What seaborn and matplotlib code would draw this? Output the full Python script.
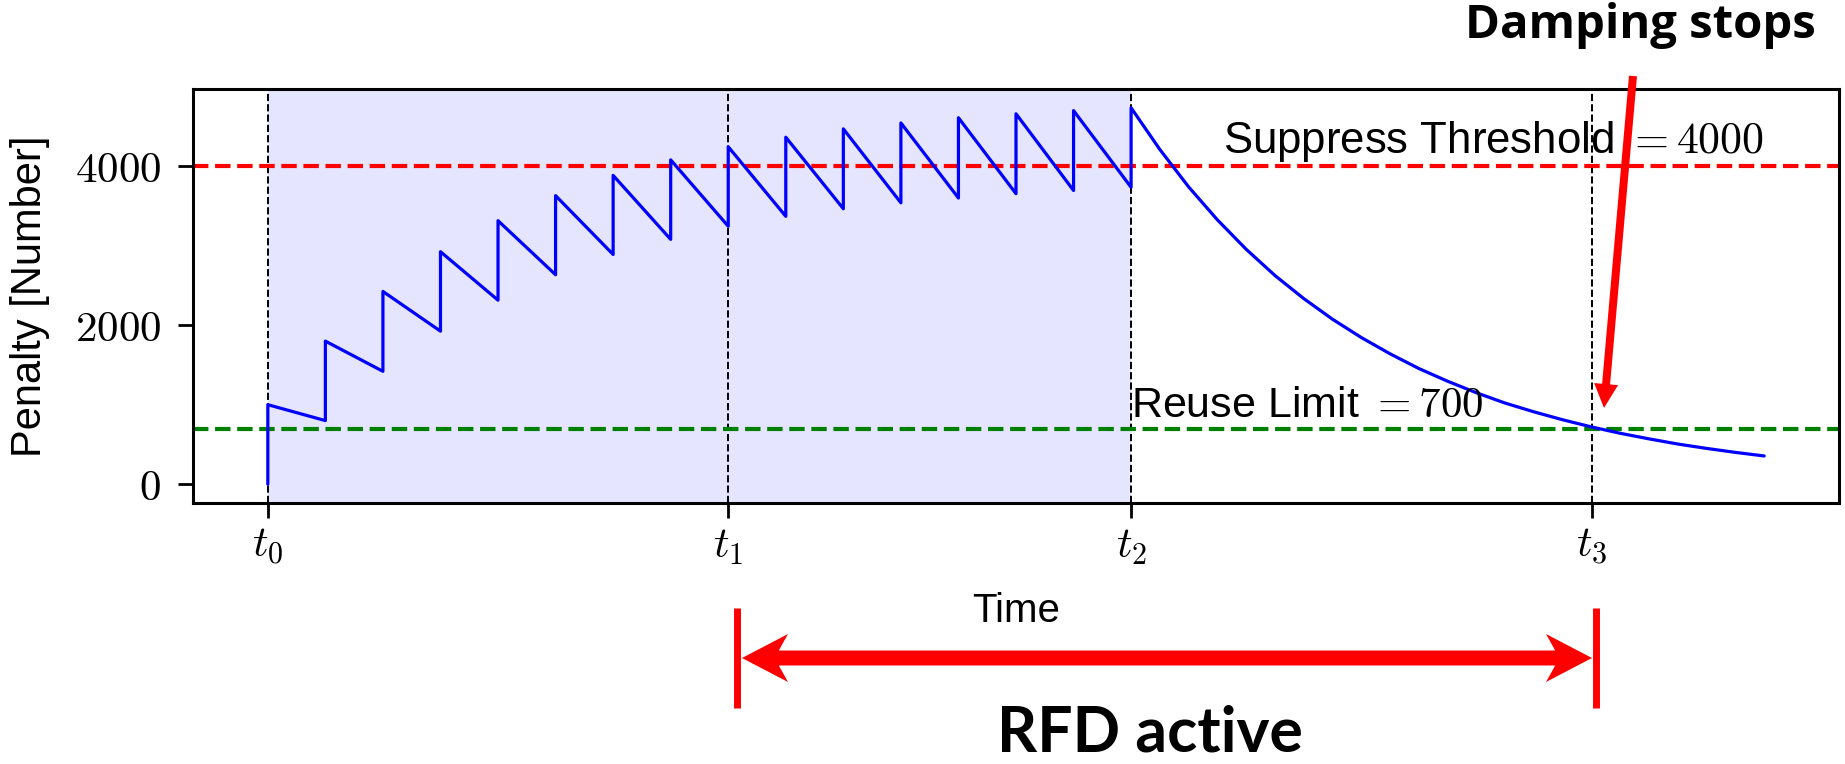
import numpy as np
import pandas as pd
import matplotlib
matplotlib.use("Agg")
import matplotlib.pyplot as plt
import matplotlib.transforms as mtransforms
from matplotlib.patches import FancyArrow
from matplotlib.lines import Line2D
import seaborn as sns

# ---------------- data ----------------
flap_times = [0, 1, 2, 3, 4, 5, 6, 7, 8, 9, 10, 11, 12, 13, 14, 15]
penalty_before_flap = [0, 800, 1420, 1925, 2315, 2635, 2890, 3080, 3245,
                       3370, 3465, 3540, 3600, 3655, 3695, 3735]
penalty_after_flap = [1000, 1800, 2425, 2925, 3315, 3630, 3885, 4080, 4245,
                      4365, 4470, 4545, 4610, 4660, 4700, 4735]
decay_times = [15.5, 16, 16.5, 17, 17.5, 18, 18.5, 19, 19.5, 20, 20.5, 21,
               21.5, 22, 22.5, 23, 23.5, 24, 24.5, 25, 25.5, 26]
decay_penalty = [4210, 3740, 3325, 2955, 2625, 2335, 2075, 1845, 1640, 1455,
                 1295, 1150, 1020, 910, 810, 720, 640, 570, 505, 450, 400, 355]

event_ticks = [0, 8, 15, 23]
event_labels = [r"$t_0$", r"$t_1$", r"$t_2$", r"$t_3$"]
ytick_values = [0, 2000, 4000]
ytick_labels = [r"$0$", r"$2000$", r"$4000$"]
suppress_threshold = 4000
reuse_limit = 700

# ---------------- style ----------------
W, H, DPI = 1845, 764, 100
sns.set_style("ticks")
plt.rcParams["font.family"] = ["Liberation Sans", "DejaVu Sans"]
plt.rcParams["mathtext.fontset"] = "cm"
for key in ("text.color", "axes.labelcolor", "xtick.color", "ytick.color",
            "axes.edgecolor"):
    plt.rcParams[key] = "black"

xs, ys = [], []
for t, b, a in zip(flap_times, penalty_before_flap, penalty_after_flap):
    xs += [t, t]
    ys += [b, a]
xs += decay_times
ys += decay_penalty
df = pd.DataFrame({"Time": xs, "Penalty": ys})

fig = plt.figure(figsize=(W / DPI, H / DPI), dpi=DPI)
ax = fig.add_axes([193 / W, 1 - 503 / H, 1646 / W, 414 / H])

ax.axvspan(event_ticks[0], event_ticks[2], color="blue", alpha=0.1, lw=0, zorder=0)
for t in event_ticks:
    ax.axvline(t, color="black", ls="--", lw=1.4, zorder=1)
ax.axhline(suppress_threshold, color="red", ls="--", lw=3, zorder=2)
ax.axhline(reuse_limit, color="green", ls="--", lw=3, zorder=2)
sns.lineplot(data=df, x="Time", y="Penalty", estimator=None, sort=False,
             color="blue", lw=2.3, ax=ax, zorder=3)

ax.set_xticks(event_ticks, event_labels)
ax.set_yticks(ytick_values, ytick_labels)
ax.tick_params(axis="both", length=11, width=2, labelsize=31, color="black",
               labelcolor="black")
ax.tick_params(axis="y", pad=12)
ax.tick_params(axis="x", pad=6)
for s in ax.spines.values():
    s.set_linewidth(2.2)
    s.set_color("black")

ax.set_xlabel("Time", fontsize=29)
ax.set_ylabel("Penalty [Number]", fontsize=30)
ax.xaxis.set_label_coords(0.5, -0.215)
ax.yaxis.set_label_coords(-0.087, 0.5)

ax.text(26, suppress_threshold + 30, f"Suppress Threshold $= {suppress_threshold}$",
        ha="right", va="bottom", fontsize=31.5)
ax.text(event_ticks[2], reuse_limit + 30, f"Reuse Limit $= {reuse_limit}$",
        ha="left", va="bottom", fontsize=31)

# ---------------- slide annotations (pixel coordinates, top-left origin) ----------------
px = mtransforms.Affine2D().scale(1 / DPI, -1 / DPI).translate(0, H / DPI) + fig.dpi_scale_trans

fig.add_artist(FancyArrow(1633, 76, 1604 - 1633, 408 - 76, width=8, head_width=24,
                          head_length=24, length_includes_head=True, color="red",
                          lw=0, transform=px))
mid = (742 + 1592) / 2
for end in (742, 1592):
    fig.add_artist(FancyArrow(mid, 658, end - mid, 0, width=15, head_width=48,
                              head_length=46, overhang=0.2, length_includes_head=True,
                              color="red", lw=0, transform=px))
for bx in (737, 1596):
    fig.add_artist(Line2D([bx, bx], [608, 708], color="red", lw=5,
                          solid_capstyle="butt", transform=px))

fig.text(1640, 38, "Damping stops", transform=px, ha="center", va="baseline",
         fontsize=34, fontweight="bold", color="black",
         family=["Open Sans", "DejaVu Sans"])
fig.text(1150, 763, "RFD active", transform=px, ha="center", va="bottom",
         fontsize=45, fontweight="bold", color="black",
         family=["Lato", "DejaVu Sans"])

fig.savefig("out.png", dpi=DPI, facecolor="white")
